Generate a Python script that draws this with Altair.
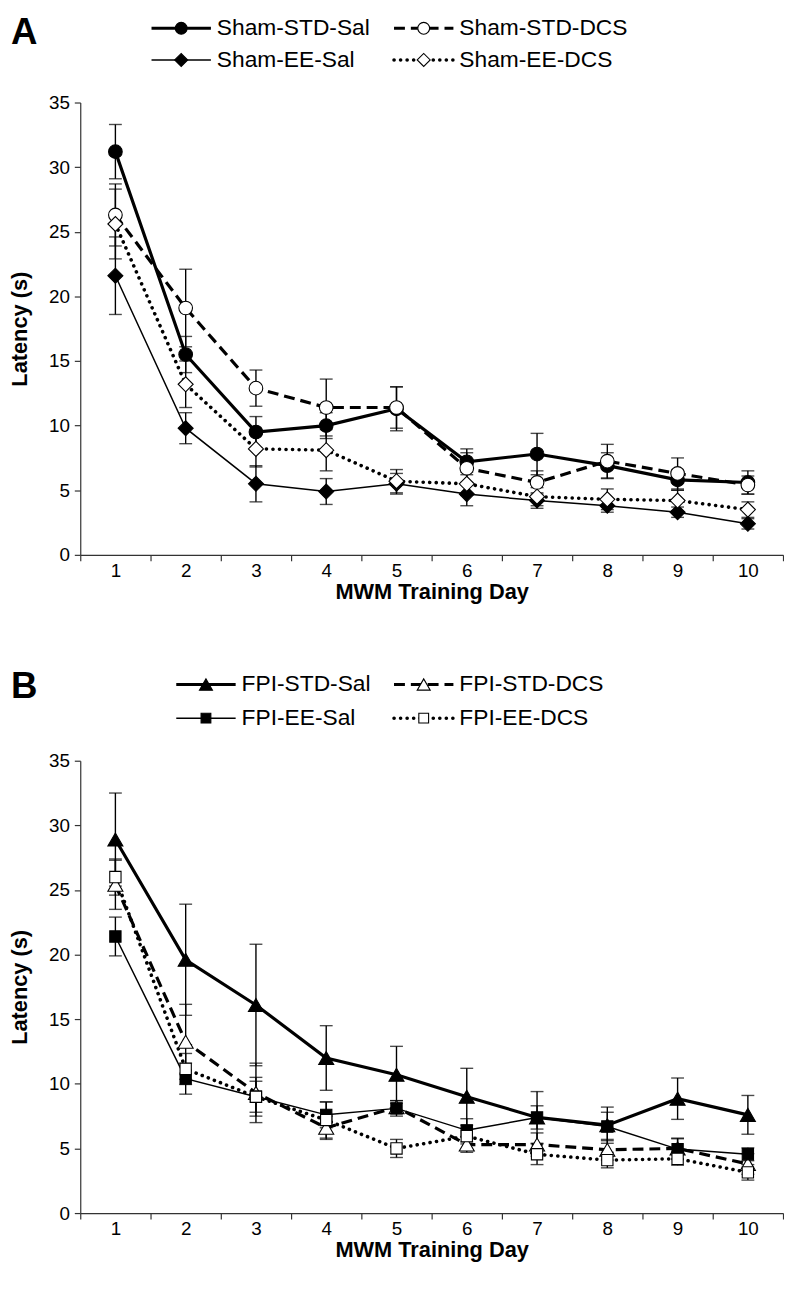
import altair as alt
import pandas as pd

# ---------------- data ----------------
days = [1, 2, 3, 4, 5, 6, 7, 8, 9, 10]

sham_std_sal = [31.2, 15.5, 9.5, 10.0, 11.3, 7.2, 7.8, 6.9, 5.8, 5.6]
sham_std_sal_err = [2.1, 1.4, 1.2, 1.0, 1.7, 1.0, 1.6, 1.0, 0.8, 0.9]
sham_std_dcs = [26.3, 19.1, 12.9, 11.4, 11.4, 6.7, 5.6, 7.25, 6.3, 5.4]
sham_std_dcs_err = [2.4, 3.0, 1.4, 2.2, 1.6, 1.2, 0.9, 1.3, 1.2, 0.7]
sham_ee_sal = [21.6, 9.8, 5.5, 4.9, 5.5, 4.7, 4.2, 3.8, 3.3, 2.4]
sham_ee_sal_err = [3.0, 1.2, 1.4, 1.0, 0.8, 0.9, 0.6, 0.5, 0.4, 0.4]
sham_ee_dcs = [25.6, 13.2, 8.2, 8.1, 5.7, 5.5, 4.5, 4.3, 4.2, 3.5]
sham_ee_dcs_err = [2.7, 1.8, 1.4, 1.6, 0.9, 0.9, 0.7, 0.8, 0.8, 0.6]

fpi_std_sal = [28.9, 19.6, 16.1, 12.0, 10.7, 9.0, 7.4, 6.8, 8.85, 7.6]
fpi_std_sal_err = [3.6, 4.3, 4.7, 2.5, 2.2, 2.2, 2.0, 1.4, 1.6, 1.5]
fpi_std_dcs = [25.4, 13.25, 9.3, 6.6, 8.2, 5.3, 5.3, 4.9, 5.0, 3.8]
fpi_std_dcs_err = [1.9, 2.9, 2.3, 0.9, 0.5, 0.6, 0.9, 0.8, 0.8, 0.8]
fpi_ee_sal = [21.4, 10.4, 9.0, 7.6, 8.1, 6.4, 7.4, 6.7, 4.95, 4.55]
fpi_ee_sal_err = [1.5, 1.2, 1.2, 1.0, 0.6, 0.9, 0.9, 1.1, 0.8, 0.5]
fpi_ee_dcs = [26.0, 11.15, 9.0, 7.2, 5.0, 5.95, 4.55, 4.1, 4.2, 3.15]
fpi_ee_dcs_err = [1.4, 1.2, 1.5, 1.4, 0.7, 0.6, 0.8, 0.6, 0.5, 0.6]

y_ticks = [0, 5, 10, 15, 20, 25, 30, 35]

# ---------------- styles ----------------
FONT = "Liberation Sans"
W, H = 710, 457

DASH = [11, 6]
DOT = [0.1, 6.5]

panel_a = [
    dict(name="Sham-STD-Sal", v=sham_std_sal, e=sham_std_sal_err, shape="circle", fill="black",
         lw=3.2, dash=None, cap="butt", size=190, col=0, row=0),
    dict(name="Sham-STD-DCS", v=sham_std_dcs, e=sham_std_dcs_err, shape="circle", fill="white",
         lw=3.2, dash=DASH, cap="butt", size=190, col=1, row=0),
    dict(name="Sham-EE-Sal", v=sham_ee_sal, e=sham_ee_sal_err, shape="diamond", fill="black",
         lw=1.5, dash=None, cap="butt", size=230, col=0, row=1),
    dict(name="Sham-EE-DCS", v=sham_ee_dcs, e=sham_ee_dcs_err, shape="diamond", fill="white",
         lw=3.6, dash=DOT, cap="round", size=230, col=1, row=1),
]
panel_b = [
    dict(name="FPI-STD-Sal", v=fpi_std_sal, e=fpi_std_sal_err, shape="triangle-up", fill="black",
         lw=3.2, dash=None, cap="butt", size=230, col=0, row=0),
    dict(name="FPI-STD-DCS", v=fpi_std_dcs, e=fpi_std_dcs_err, shape="triangle-up", fill="white",
         lw=3.2, dash=DASH, cap="butt", size=230, col=1, row=0),
    dict(name="FPI-EE-Sal", v=fpi_ee_sal, e=fpi_ee_sal_err, shape="square", fill="black",
         lw=1.5, dash=None, cap="butt", size=130, col=0, row=1),
    dict(name="FPI-EE-DCS", v=fpi_ee_dcs, e=fpi_ee_dcs_err, shape="square", fill="white",
         lw=3.6, dash=DOT, cap="round", size=130, col=1, row=1),
]


def x_enc():
    return alt.X(
        "day:O",
        scale=alt.Scale(type="band", domain=days, paddingInner=0, paddingOuter=0),
        bandPosition=0.5,
        axis=alt.Axis(
            title="MWM Training Day", labelAngle=0, tickBand="extent", tickSize=6,
            labelPadding=1, titlePadding=1, grid=False,
        ),
    )


def y_enc(field):
    return alt.Y(
        f"{field}:Q",
        scale=alt.Scale(domain=[0, 35], nice=False, zero=True),
        axis=alt.Axis(values=y_ticks, title="Latency (s)", grid=False, tickSize=6,
                      labelPadding=5, titlePadding=17),
    )


def make_panel(series, letter, legend_x0, legend_rows, letter_y):
    layers = []
    # lines
    for s in series:
        df = pd.DataFrame({"day": days, "v": s["v"]})
        kw = dict(color="black", strokeWidth=s["lw"], strokeCap=s["cap"])
        if s["dash"]:
            kw["strokeDash"] = s["dash"]
        layers.append(alt.Chart(df).mark_line(**kw).encode(x=x_enc(), y=y_enc("v")))
    # error bars
    for s in series:
        df = pd.DataFrame({
            "day": days,
            "lo": [a - b for a, b in zip(s["v"], s["e"])],
            "hi": [a + b for a, b in zip(s["v"], s["e"])],
        })
        layers.append(alt.Chart(df).mark_rule(color="black", strokeWidth=1.4).encode(
            x=x_enc(), y=y_enc("lo"), y2="hi:Q"))
        layers.append(alt.Chart(df).mark_tick(color="black", thickness=1.4, size=13).encode(
            x=x_enc(), y=y_enc("lo")))
        layers.append(alt.Chart(df).mark_tick(color="black", thickness=1.4, size=13).encode(
            x=x_enc(), y=y_enc("hi")))
    # markers
    for s in series:
        df = pd.DataFrame({"day": days, "v": s["v"]})
        layers.append(alt.Chart(df).mark_point(
            shape=s["shape"], filled=True, fill=s["fill"], stroke="black", strokeWidth=1.1,
            size=s["size"], opacity=1).encode(x=x_enc(), y=y_enc("v")))
    # legend
    col_x = [legend_x0, 317]
    for s in series:
        lx = col_x[s["col"]]
        ly = legend_rows[s["row"]]
        ldf = pd.DataFrame({"label": [s["name"]]})
        kw = dict(color="black", strokeWidth=s["lw"], strokeCap=s["cap"])
        if s["dash"]:
            kw["strokeDash"] = s["dash"]
        layers.append(alt.Chart(ldf).mark_rule(**kw).encode(
            x=alt.value(lx), x2=alt.value(lx + 60), y=alt.value(ly)))
        layers.append(alt.Chart(ldf).mark_point(
            shape=s["shape"], filled=True, fill=s["fill"], stroke="black", strokeWidth=1.1,
            size=s["size"] * 0.75, opacity=1).encode(x=alt.value(lx + 30), y=alt.value(ly)))
        layers.append(alt.Chart(ldf).mark_text(
            align="left", baseline="middle", font=FONT, fontSize=23, color="black").encode(
            x=alt.value(lx + 66), y=alt.value(ly), text="label:N"))
    # panel letter
    ldf = pd.DataFrame({"label": [letter]})
    layers.append(alt.Chart(ldf).mark_text(
        align="left", baseline="alphabetic", font=FONT, fontSize=37, fontWeight="bold",
        color="black").encode(x=alt.value(-70), y=alt.value(letter_y), text="label:N"))
    return alt.layer(*layers).properties(width=W, height=H)


chart_a = make_panel(panel_a, "A", 72, [-75, -43], -59)
chart_b = make_panel(panel_b, "B", 97, [-77, -43], -63)

chart = alt.vconcat(chart_a, chart_b, spacing=67).properties(
    padding={"left": 0, "top": 0, "right": 0, "bottom": 0}
).configure_view(stroke=None).configure_axis(
    labelFont=FONT, titleFont=FONT, labelFontSize=19, titleFontSize=22,
    titleFontWeight="bold", labelColor="black", titleColor="black",
    domainColor="#333333", tickColor="#333333", domainWidth=1.2, tickWidth=1.2,
)

chart.save("out.html", embed_options={"renderer": "svg", "actions": False})
